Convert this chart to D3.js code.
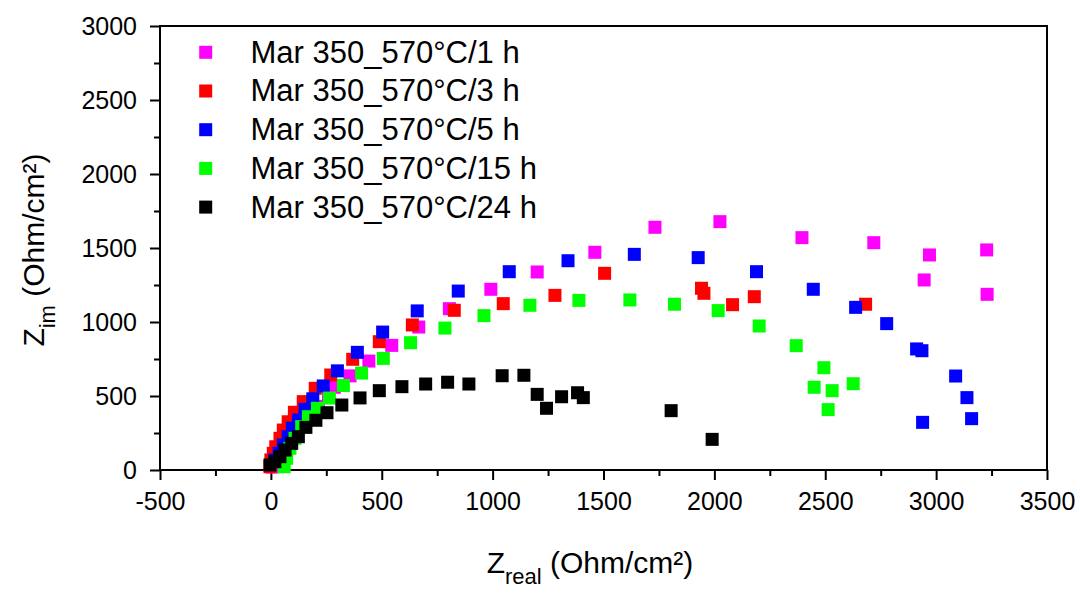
<!DOCTYPE html>
<html>
<head>
  <title>Nyquist plot</title>
  <style type="text/css">
    body { margin: 0; background: #fff; }
    svg text { font-family: "Liberation Sans", Arial, sans-serif; fill: #000; }
    .tick text { font-size: 25px; }
    .legend text { font-size: 31px; }
    .title { font-size: 30px; }
  </style>
</head>
<body>
<div id="chart"></div>
<script src="https://cdnjs.cloudflare.com/ajax/libs/d3/7.8.5/d3.min.js"></script>
<script>
// series names (legend order = draw order)
var seriesNames = ['Mar 350_570°C/1 h', 'Mar 350_570°C/3 h', 'Mar 350_570°C/5 h',
                   'Mar 350_570°C/15 h', 'Mar 350_570°C/24 h'];
var seriesColors = ['#ff00ff', '#ff0000', '#0000ff', '#00ff00', '#000000'];

// [Zreal, Zim]
var pts1h = [[5, 20], [25, 70], [50, 130], [80, 200], [115, 270], [160, 350], [214, 430],
  [260, 500], [286, 559], [357, 636], [442, 736], [545, 842], [667, 966], [805, 1090],
  [992, 1221], [1201, 1338], [1461, 1471], [1732, 1640], [2025, 1678], [2395, 1570],
  [2719, 1536], [2946, 1284], [2970, 1453], [3228, 1487], [3230, 1187]];
var pts3h = [[-4, 22], [0, 68], [11, 113], [22, 157], [41, 214], [56, 270], [78, 326],
  [106, 390], [146, 462], [200, 552], [270, 642], [369, 748], [489, 867], [638, 980],
  [827, 1079], [1048, 1124], [1281, 1180], [1505, 1329], [1942, 1228], [1953, 1194],
  [2082, 1117], [2180, 1171], [2682, 1120]];
var pts5h = [[18, 68], [37, 113], [56, 169], [78, 225], [97, 282], [124, 338], [154, 410],
  [189, 481], [236, 568], [300, 670], [390, 795], [504, 932], [660, 1075], [845, 1209],
  [1075, 1340], [1340, 1414], [1639, 1457], [1927, 1435], [2190, 1340], [2446, 1221],
  [2637, 1099], [2777, 989], [2912, 818], [2936, 806], [3088, 635], [3139, 489],
  [3160, 347], [2939, 322]];
var pts15h = [[60, 22], [71, 79], [86, 147], [109, 214], [139, 293], [169, 360], [210, 417],
  [264, 486], [327, 571], [409, 655], [507, 754], [630, 860], [785, 959], [961, 1043],
  [1168, 1113], [1389, 1146], [1619, 1149], [1820, 1120], [2017, 1077], [2202, 973],
  [2369, 840], [2494, 691], [2450, 559], [2531, 536], [2626, 583], [2513, 408]];
var pts24h = [[-4, 34], [18, 56], [41, 90], [64, 135], [94, 180], [124, 225], [158, 288],
  [203, 336], [253, 387], [320, 439], [402, 487], [489, 536], [591, 563], [698, 581],
  [797, 593], [893, 581], [1043, 637], [1141, 640], [1201, 511], [1243, 417],
  [1311, 495], [1383, 522], [1409, 489], [1805, 401], [1990, 207]];
var allSeries = [pts1h, pts3h, pts5h, pts15h, pts24h];

var xMajor = [-500, 0, 500, 1000, 1500, 2000, 2500, 3000, 3500];
var yMajor = [0, 500, 1000, 1500, 2000, 2500, 3000];

var W = 1080, H = 594;
var svg = d3.select('#chart').append('svg')
  .attr('width', W)
  .attr('height', H);

var x = d3.scaleLinear().domain([-500, 3500]).range([160, 1047]);
var y = d3.scaleLinear().domain([0, 3000]).range([470, 26]);

var plain = function(d) { return String(d) };

// minor ticks
var xMinor = d3.range(-250, 3500, 500);
var yMinor = d3.range(250, 3000, 500);

svg.append('g')
  .attr('transform', 'translate(0,470)')
  .call(d3.axisBottom(x).tickValues(xMinor).tickSize(6).tickFormat(''))
  .call(function(g) { g.select('.domain').remove() });
svg.append('g')
  .attr('transform', 'translate(0,470)')
  .call(d3.axisBottom(x).tickValues(xMajor).tickSize(10).tickPadding(12).tickFormat(plain))
  .call(function(g) { g.select('.domain').remove() });

svg.append('g')
  .attr('transform', 'translate(160,0)')
  .call(d3.axisLeft(y).tickValues(yMinor).tickSize(6).tickFormat(''))
  .call(function(g) { g.select('.domain').remove() });
svg.append('g')
  .attr('transform', 'translate(160,0)')
  .call(d3.axisLeft(y).tickValues(yMajor).tickSize(10).tickPadding(13).tickFormat(plain))
  .call(function(g) { g.select('.domain').remove() });

svg.selectAll('.tick line').attr('stroke', '#000').attr('stroke-width', 2);
svg.selectAll('.tick text').attr('fill', '#000');

// frame
svg.append('rect')
  .attr('x', x(-500))
  .attr('y', y(3000))
  .attr('width', x(3500) - x(-500))
  .attr('height', y(0) - y(3000))
  .attr('fill', 'none')
  .attr('stroke', '#000')
  .attr('stroke-width', 2);

// points
var size = 13;
allSeries.forEach(function(pts, i) {
  svg.append('g').selectAll('rect')
    .data(pts)
    .enter()
    .append('rect')
    .attr('x', function(d) { return x(d[0]) - size / 2 })
    .attr('y', function(d) { return y(d[1]) - size / 2 })
    .attr('width', size)
    .attr('height', size)
    .attr('fill', seriesColors[i]);
});

// legend
var legend = svg.append('g').attr('class', 'legend');
seriesNames.forEach(function(name, i) {
  var cy = 52.3 + i * 38.7;
  legend.append('rect')
    .attr('x', 205.7 - size / 2)
    .attr('y', cy - size / 2)
    .attr('width', size)
    .attr('height', size)
    .attr('fill', seriesColors[i]);
  legend.append('text')
    .attr('x', 250.5)
    .attr('y', cy + 10.4)
    .text(name);
});

// axis titles
var xt = svg.append('text')
  .attr('class', 'title')
  .attr('x', 590)
  .attr('y', 573)
  .attr('text-anchor', 'middle');
xt.append('tspan').text('Z');
xt.append('tspan').attr('dy', 11).style('font-size', '22px').text('real');
xt.append('tspan').attr('dy', -11).text(' (Ohm/cm²)');

var yt = svg.append('text')
  .attr('class', 'title')
  .attr('transform', 'translate(44,250) rotate(-90)')
  .attr('text-anchor', 'middle');
yt.append('tspan').text('Z');
yt.append('tspan').attr('dy', 11).style('font-size', '22px').text('im');
yt.append('tspan').attr('dy', -11).text(' (Ohm/cm²)');
</script>
</body>
</html>
